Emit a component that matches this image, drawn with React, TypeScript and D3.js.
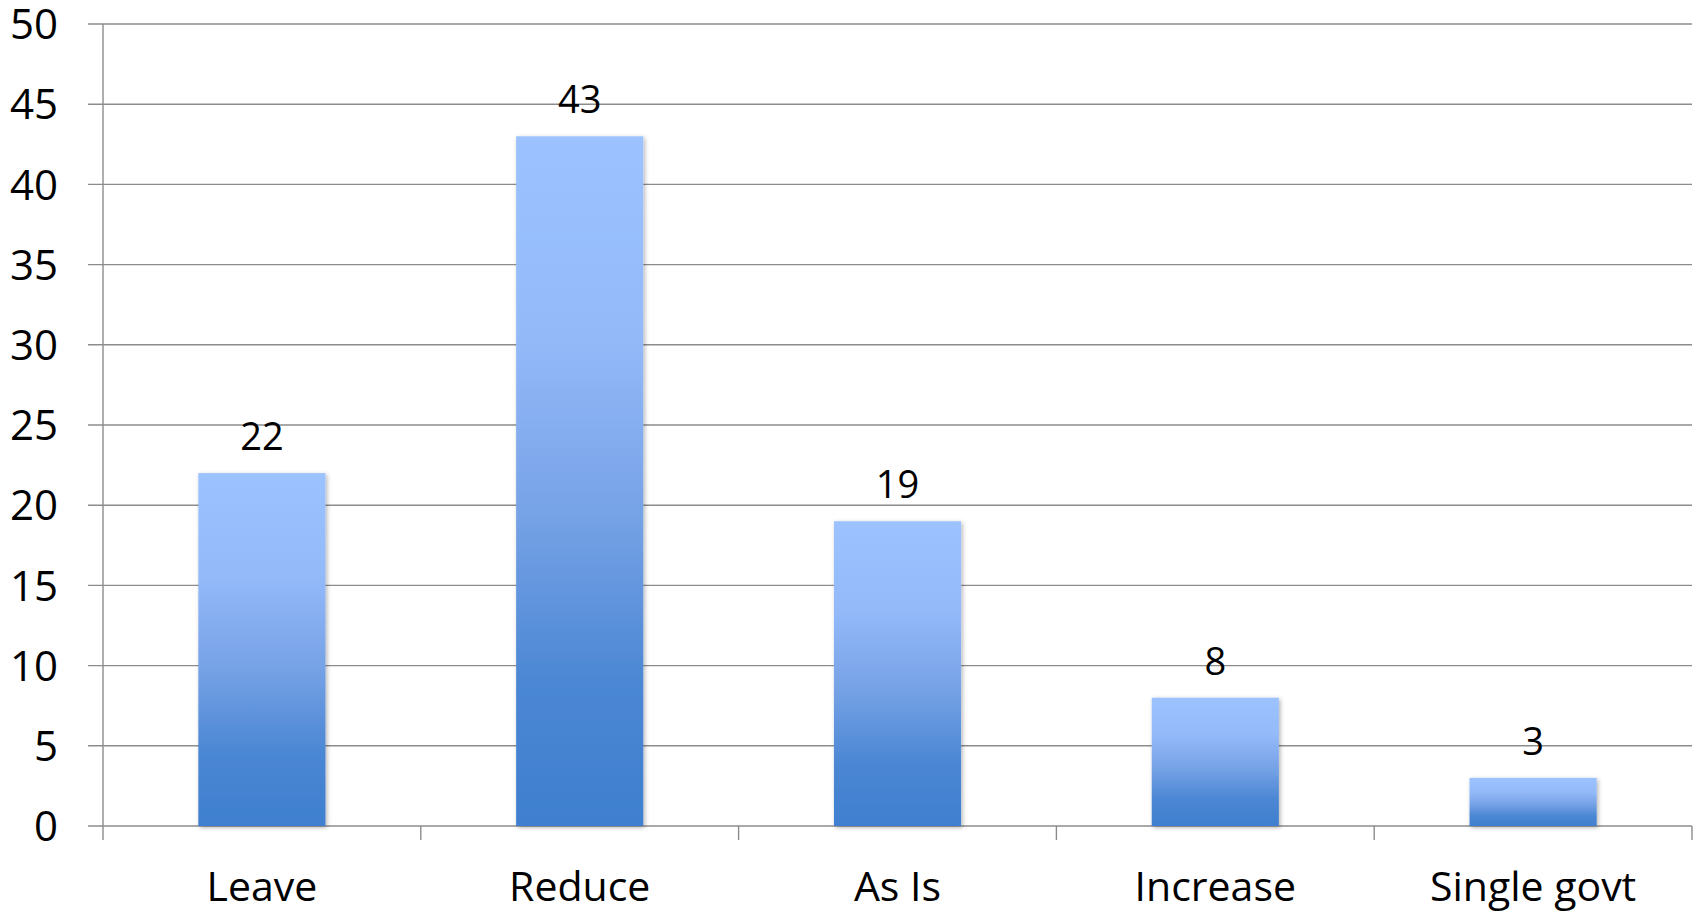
import React from "react";
import * as d3 from "d3";

const categories = ["Leave", "Reduce", "As Is", "Increase", "Single govt"];
const values = [22, 43, 19, 8, 3];
const yTicks = [0, 5, 10, 15, 20, 25, 30, 35, 40, 45, 50];

const W = 1700;
const H = 913;
const left = 103;
const right = 1692;
const top = 24;
const bottom = 826;
const FONT = "'Open Sans', Lato, sans-serif";

export default function App() {
  const x = d3.scaleBand<string>().domain(categories).range([left, right]).paddingInner(0.6).paddingOuter(0.3);
  const outer = d3.scaleBand<string>().domain(categories).range([left, right]);
  const y = d3.scaleLinear().domain([0, 50]).range([bottom, top]);

  return (
    <svg width={W} height={H} style={{ position: "absolute", left: 0, top: 0, background: "#fff" }}>
      <defs>
        <linearGradient id="barGrad" x1="0" y1="0" x2="0" y2="1">
          <stop offset="0" stopColor="#9cc3ff" />
          <stop offset="0.3" stopColor="#93b9f9" />
          <stop offset="0.55" stopColor="#76a2e6" />
          <stop offset="0.8" stopColor="#4a86d3" />
          <stop offset="1" stopColor="#3f7fcf" />
        </linearGradient>
        <filter id="shadow" x="-10%" y="-10%" width="130%" height="130%">
          <feDropShadow dx="1.5" dy="1.5" stdDeviation="2" floodColor="#000" floodOpacity="0.3" />
        </filter>
      </defs>
      {yTicks.map((t) => (
        <g key={t}>
          <line x1={left - 15} x2={right} y1={y(t)} y2={y(t)} stroke="#8c8c8c" strokeWidth={1.4} />
          <text x={58} y={y(t)} dy="0.36em" textAnchor="end" fontFamily={FONT} fontSize={42} fill="#000">
            {t}
          </text>
        </g>
      ))}
      <line x1={left} x2={left} y1={top} y2={bottom + 14} stroke="#8c8c8c" strokeWidth={1.4} />
      {categories.map((c, i) => (
        <line key={"t" + i} x1={(outer(c) as number) + outer.bandwidth()} x2={(outer(c) as number) + outer.bandwidth()} y1={bottom} y2={bottom + 14} stroke="#8c8c8c" strokeWidth={1.4} />
      ))}
      {categories.map((c, i) => (
        <g key={c}>
          <rect
            x={x(c)}
            y={y(values[i])}
            width={x.bandwidth()}
            height={bottom - y(values[i])}
            fill="url(#barGrad)"
            filter="url(#shadow)"
          />
          <text
            x={(x(c) as number) + x.bandwidth() / 2}
            y={y(values[i]) - 23}
            textAnchor="middle"
            fontFamily={FONT}
            fontSize={38}
            fill="#000"
          >
            {values[i]}
          </text>
          <text
            x={(outer(c) as number) + outer.bandwidth() / 2}
            y={901}
            textAnchor="middle"
            fontFamily={FONT}
            fontSize={41}
            fill="#000"
          >
            {c}
          </text>
        </g>
      ))}
    </svg>
  );
}
